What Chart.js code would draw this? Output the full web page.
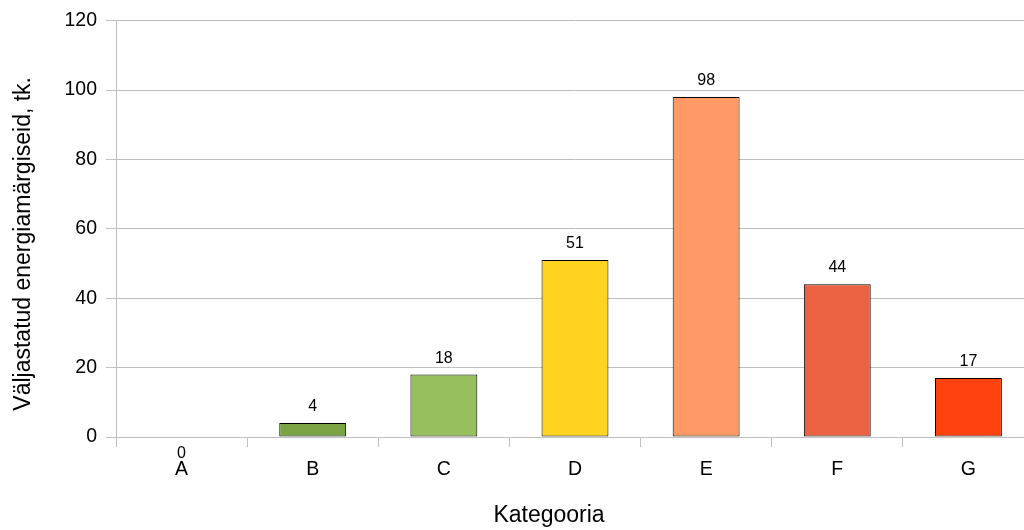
<!DOCTYPE html>
<html>
<head>
<meta charset="utf-8">
<script src="https://cdn.jsdelivr.net/npm/chart.js@4/dist/chart.umd.min.js"></script>
<style>
  html, body { margin: 0; padding: 0; background: #fff; overflow: hidden; }
  #wrap { width: 1040px; height: 530px; }
</style>
</head>
<body>
<div id="wrap"><canvas id="chart" width="1040" height="530"></canvas></div>
<script>
// andmed
const categories = ['A', 'B', 'C', 'D', 'E', 'F', 'G'];
const values = [0, 4, 18, 51, 98, 44, 17];
const barColors = ['#579d1c', '#7aa444', '#97bf5e', '#ffd320', '#ff9966', '#ea6242', '#ff420e'];
const yTicks = [0, 20, 40, 60, 80, 100, 120];
const xTitle = 'Kategooria';
const yTitle = 'Väljastatud energiamärgiseid, tk.';

const gridColor = '#c0c0c0';
const fontFamily = '"Liberation Sans", Arial, sans-serif';

// väärtused tulpade kohale
const valueLabels = {
  id: 'valueLabels',
  afterDatasetsDraw(chart) {
    const ctx = chart.ctx;
    const meta = chart.getDatasetMeta(0);
    ctx.save();
    ctx.font = '16px ' + fontFamily;
    ctx.fillStyle = '#000';
    ctx.textAlign = 'center';
    ctx.textBaseline = 'alphabetic';
    meta.data.forEach((bar, i) => {
      const v = values[i];
      const y = v === 0 ? bar.y + 21 : bar.y - 12;
      ctx.fillText(String(v), bar.x, y);
    });
    ctx.restore();
  }
};

// telgede pealkirjad (LibreOffice paigutus pole päris keskel)
const axisTitles = {
  id: 'axisTitles',
  afterDraw(chart) {
    const ctx = chart.ctx;
    const area = chart.chartArea;
    ctx.save();
    ctx.font = '23px ' + fontFamily;
    ctx.fillStyle = '#000';
    ctx.textAlign = 'center';
    ctx.textBaseline = 'alphabetic';
    ctx.fillText(xTitle, 549, chart.height - 8);
    ctx.translate(29.5, (area.top + area.bottom) / 2 + 15);
    ctx.rotate(-Math.PI / 2);
    ctx.fillText(yTitle, 0, 0);
    ctx.restore();
  }
};

new Chart(document.getElementById('chart'), {
  type: 'bar',
  data: {
    labels: categories,
    datasets: [{
      label: 'Väljastatud energiamärgiseid',
      data: values,
      backgroundColor: barColors,
      borderColor: '#000',
      borderWidth: 1,
      borderSkipped: false,
      barPercentage: 0.51,
      categoryPercentage: 1
    }]
  },
  options: {
    responsive: false,
    animation: false,
    events: [],
    layout: { padding: { left: 0, top: 19, right: 6, bottom: 0 } },
    plugins: {
      legend: { display: false },
      tooltip: { enabled: false }
    },
    scales: {
      x: {
        grid: {
          offset: true,
          drawOnChartArea: false,
          drawTicks: true,
          tickLength: 10,
          color: gridColor
        },
        border: { display: true, color: gridColor },
        ticks: {
          color: '#000',
          padding: 11,
          font: { family: fontFamily, size: 19.5 }
        },
        afterFit(scale) { scale.height = 93; }
      },
      y: {
        min: 0,
        max: 120,
        afterBuildTicks(scale) { scale.ticks = yTicks.map(v => ({ value: v })); },
        grid: {
          color: gridColor,
          tickLength: 10
        },
        border: { display: true, color: gridColor },
        ticks: {
          color: '#000',
          padding: 9,
          font: { family: fontFamily, size: 19.5 }
        },
        afterFit(scale) { scale.width = 116; }
      }
    }
  },
  plugins: [valueLabels, axisTitles]
});
</script>
</body>
</html>
